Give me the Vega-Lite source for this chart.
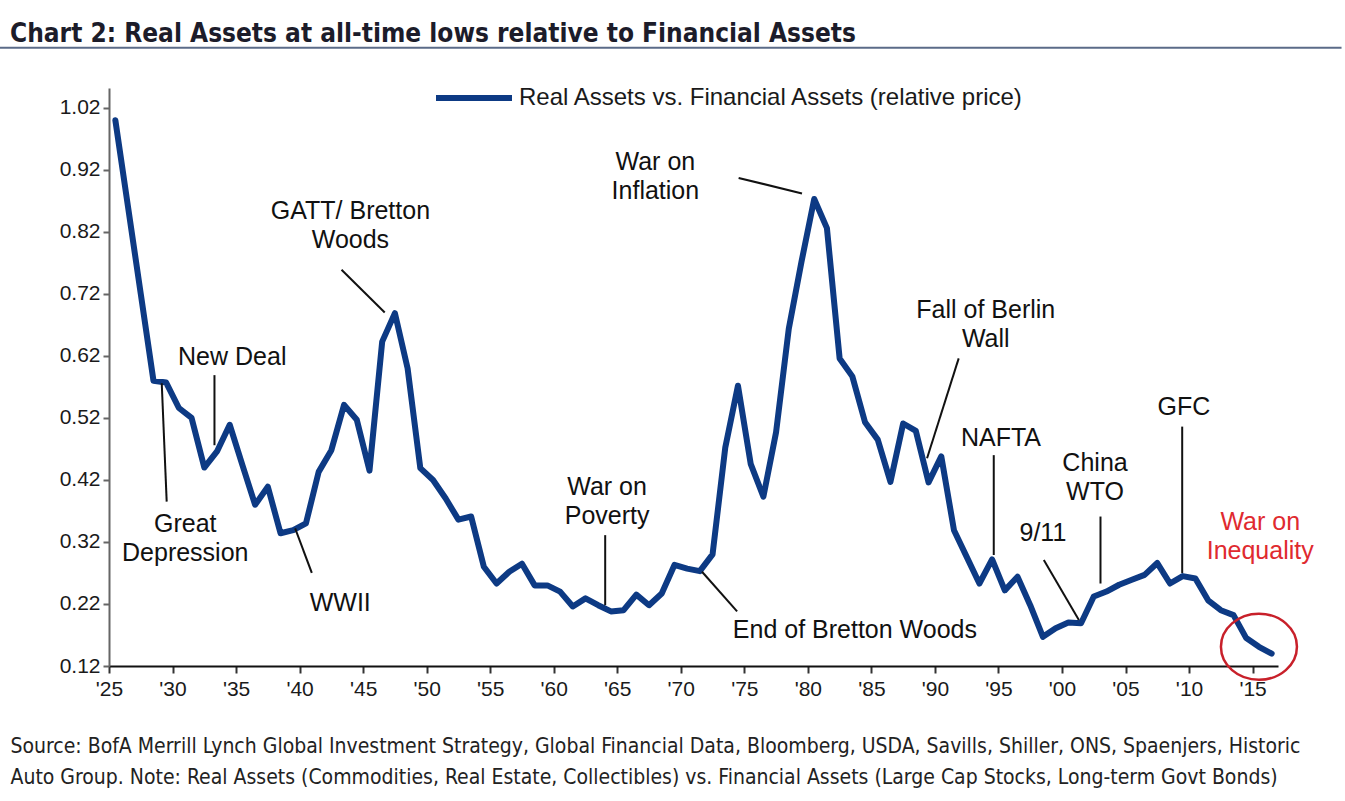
{
  "$schema": "https://vega.github.io/schema/vega-lite/v6.json",
  "width": 1169,
  "height": 578,
  "autosize": {"type": "none"},
  "padding": {"left": 109, "top": 88, "right": 68, "bottom": 135},
  "background": "white",
  "title": {
    "text": "Chart 2: Real Assets at all-time lows relative to Financial Assets",
    "anchor": "start",
    "frame": "group",
    "dx": -99,
    "offset": 0,
    "font": "Liberation Sans Narrow, DejaVu Sans Condensed, sans-serif",
    "fontSize": 26,
    "fontWeight": "bold",
    "color": "#1c1c2a"
  },
  "config": {
    "view": {"stroke": null},
    "axis": {"grid": false},
    "text": {"font": "Liberation Sans, Arial, sans-serif"}
  },
  "datasets": {
    "series": [
      {"year": 1925, "value": 1.0, "series": "Real Assets vs. Financial Assets (relative price)"},
      {"year": 1926, "value": 0.86, "series": "Real Assets vs. Financial Assets (relative price)"},
      {"year": 1927, "value": 0.72, "series": "Real Assets vs. Financial Assets (relative price)"},
      {"year": 1928, "value": 0.58, "series": "Real Assets vs. Financial Assets (relative price)"},
      {"year": 1929, "value": 0.577, "series": "Real Assets vs. Financial Assets (relative price)"},
      {"year": 1930, "value": 0.536, "series": "Real Assets vs. Financial Assets (relative price)"},
      {"year": 1931, "value": 0.52, "series": "Real Assets vs. Financial Assets (relative price)"},
      {"year": 1932, "value": 0.44, "series": "Real Assets vs. Financial Assets (relative price)"},
      {"year": 1933, "value": 0.466, "series": "Real Assets vs. Financial Assets (relative price)"},
      {"year": 1934, "value": 0.509, "series": "Real Assets vs. Financial Assets (relative price)"},
      {"year": 1935, "value": 0.444, "series": "Real Assets vs. Financial Assets (relative price)"},
      {"year": 1936, "value": 0.38, "series": "Real Assets vs. Financial Assets (relative price)"},
      {"year": 1937, "value": 0.409, "series": "Real Assets vs. Financial Assets (relative price)"},
      {"year": 1938, "value": 0.334, "series": "Real Assets vs. Financial Assets (relative price)"},
      {"year": 1939, "value": 0.339, "series": "Real Assets vs. Financial Assets (relative price)"},
      {"year": 1940, "value": 0.35, "series": "Real Assets vs. Financial Assets (relative price)"},
      {"year": 1941, "value": 0.433, "series": "Real Assets vs. Financial Assets (relative price)"},
      {"year": 1942, "value": 0.468, "series": "Real Assets vs. Financial Assets (relative price)"},
      {"year": 1943, "value": 0.541, "series": "Real Assets vs. Financial Assets (relative price)"},
      {"year": 1944, "value": 0.517, "series": "Real Assets vs. Financial Assets (relative price)"},
      {"year": 1945, "value": 0.435, "series": "Real Assets vs. Financial Assets (relative price)"},
      {"year": 1946, "value": 0.643, "series": "Real Assets vs. Financial Assets (relative price)"},
      {"year": 1947, "value": 0.689, "series": "Real Assets vs. Financial Assets (relative price)"},
      {"year": 1948, "value": 0.6, "series": "Real Assets vs. Financial Assets (relative price)"},
      {"year": 1949, "value": 0.439, "series": "Real Assets vs. Financial Assets (relative price)"},
      {"year": 1950, "value": 0.42, "series": "Real Assets vs. Financial Assets (relative price)"},
      {"year": 1951, "value": 0.39, "series": "Real Assets vs. Financial Assets (relative price)"},
      {"year": 1952, "value": 0.356, "series": "Real Assets vs. Financial Assets (relative price)"},
      {"year": 1953, "value": 0.361, "series": "Real Assets vs. Financial Assets (relative price)"},
      {"year": 1954, "value": 0.28, "series": "Real Assets vs. Financial Assets (relative price)"},
      {"year": 1955, "value": 0.253, "series": "Real Assets vs. Financial Assets (relative price)"},
      {"year": 1956, "value": 0.272, "series": "Real Assets vs. Financial Assets (relative price)"},
      {"year": 1957, "value": 0.285, "series": "Real Assets vs. Financial Assets (relative price)"},
      {"year": 1958, "value": 0.25, "series": "Real Assets vs. Financial Assets (relative price)"},
      {"year": 1959, "value": 0.25, "series": "Real Assets vs. Financial Assets (relative price)"},
      {"year": 1960, "value": 0.24, "series": "Real Assets vs. Financial Assets (relative price)"},
      {"year": 1961, "value": 0.216, "series": "Real Assets vs. Financial Assets (relative price)"},
      {"year": 1962, "value": 0.229, "series": "Real Assets vs. Financial Assets (relative price)"},
      {"year": 1963, "value": 0.218, "series": "Real Assets vs. Financial Assets (relative price)"},
      {"year": 1964, "value": 0.208, "series": "Real Assets vs. Financial Assets (relative price)"},
      {"year": 1965, "value": 0.21, "series": "Real Assets vs. Financial Assets (relative price)"},
      {"year": 1966, "value": 0.235, "series": "Real Assets vs. Financial Assets (relative price)"},
      {"year": 1967, "value": 0.218, "series": "Real Assets vs. Financial Assets (relative price)"},
      {"year": 1968, "value": 0.237, "series": "Real Assets vs. Financial Assets (relative price)"},
      {"year": 1969, "value": 0.283, "series": "Real Assets vs. Financial Assets (relative price)"},
      {"year": 1970, "value": 0.277, "series": "Real Assets vs. Financial Assets (relative price)"},
      {"year": 1971, "value": 0.273, "series": "Real Assets vs. Financial Assets (relative price)"},
      {"year": 1972, "value": 0.3, "series": "Real Assets vs. Financial Assets (relative price)"},
      {"year": 1973, "value": 0.472, "series": "Real Assets vs. Financial Assets (relative price)"},
      {"year": 1974, "value": 0.572, "series": "Real Assets vs. Financial Assets (relative price)"},
      {"year": 1975, "value": 0.446, "series": "Real Assets vs. Financial Assets (relative price)"},
      {"year": 1976, "value": 0.393, "series": "Real Assets vs. Financial Assets (relative price)"},
      {"year": 1977, "value": 0.497, "series": "Real Assets vs. Financial Assets (relative price)"},
      {"year": 1978, "value": 0.664, "series": "Real Assets vs. Financial Assets (relative price)"},
      {"year": 1979, "value": 0.772, "series": "Real Assets vs. Financial Assets (relative price)"},
      {"year": 1980, "value": 0.873, "series": "Real Assets vs. Financial Assets (relative price)"},
      {"year": 1981, "value": 0.826, "series": "Real Assets vs. Financial Assets (relative price)"},
      {"year": 1982, "value": 0.616, "series": "Real Assets vs. Financial Assets (relative price)"},
      {"year": 1983, "value": 0.587, "series": "Real Assets vs. Financial Assets (relative price)"},
      {"year": 1984, "value": 0.513, "series": "Real Assets vs. Financial Assets (relative price)"},
      {"year": 1985, "value": 0.485, "series": "Real Assets vs. Financial Assets (relative price)"},
      {"year": 1986, "value": 0.417, "series": "Real Assets vs. Financial Assets (relative price)"},
      {"year": 1987, "value": 0.511, "series": "Real Assets vs. Financial Assets (relative price)"},
      {"year": 1988, "value": 0.499, "series": "Real Assets vs. Financial Assets (relative price)"},
      {"year": 1989, "value": 0.416, "series": "Real Assets vs. Financial Assets (relative price)"},
      {"year": 1990, "value": 0.458, "series": "Real Assets vs. Financial Assets (relative price)"},
      {"year": 1991, "value": 0.339, "series": "Real Assets vs. Financial Assets (relative price)"},
      {"year": 1992, "value": 0.296, "series": "Real Assets vs. Financial Assets (relative price)"},
      {"year": 1993, "value": 0.253, "series": "Real Assets vs. Financial Assets (relative price)"},
      {"year": 1994, "value": 0.292, "series": "Real Assets vs. Financial Assets (relative price)"},
      {"year": 1995, "value": 0.242, "series": "Real Assets vs. Financial Assets (relative price)"},
      {"year": 1996, "value": 0.264, "series": "Real Assets vs. Financial Assets (relative price)"},
      {"year": 1997, "value": 0.218, "series": "Real Assets vs. Financial Assets (relative price)"},
      {"year": 1998, "value": 0.167, "series": "Real Assets vs. Financial Assets (relative price)"},
      {"year": 1999, "value": 0.181, "series": "Real Assets vs. Financial Assets (relative price)"},
      {"year": 2000, "value": 0.19, "series": "Real Assets vs. Financial Assets (relative price)"},
      {"year": 2001, "value": 0.189, "series": "Real Assets vs. Financial Assets (relative price)"},
      {"year": 2002, "value": 0.232, "series": "Real Assets vs. Financial Assets (relative price)"},
      {"year": 2003, "value": 0.24, "series": "Real Assets vs. Financial Assets (relative price)"},
      {"year": 2004, "value": 0.251, "series": "Real Assets vs. Financial Assets (relative price)"},
      {"year": 2005, "value": 0.259, "series": "Real Assets vs. Financial Assets (relative price)"},
      {"year": 2006, "value": 0.267, "series": "Real Assets vs. Financial Assets (relative price)"},
      {"year": 2007, "value": 0.286, "series": "Real Assets vs. Financial Assets (relative price)"},
      {"year": 2008, "value": 0.253, "series": "Real Assets vs. Financial Assets (relative price)"},
      {"year": 2009, "value": 0.265, "series": "Real Assets vs. Financial Assets (relative price)"},
      {"year": 2010, "value": 0.261, "series": "Real Assets vs. Financial Assets (relative price)"},
      {"year": 2011, "value": 0.226, "series": "Real Assets vs. Financial Assets (relative price)"},
      {"year": 2012, "value": 0.21, "series": "Real Assets vs. Financial Assets (relative price)"},
      {"year": 2013, "value": 0.202, "series": "Real Assets vs. Financial Assets (relative price)"},
      {"year": 2014, "value": 0.165, "series": "Real Assets vs. Financial Assets (relative price)"},
      {"year": 2015, "value": 0.151, "series": "Real Assets vs. Financial Assets (relative price)"},
      {"year": 2016, "value": 0.14, "series": "Real Assets vs. Financial Assets (relative price)"}
    ],
    "notes": [
      {"year": 1943.5, "value": 0.854, "label": "GATT/ Bretton\nWoods"},
      {"year": 1934.2, "value": 0.618, "label": "New Deal"},
      {"year": 1930.5, "value": 0.349, "label": "Great\nDepression"},
      {"year": 1942.7, "value": 0.222, "label": "WWII"},
      {"year": 1963.7, "value": 0.409, "label": "War on\nPoverty"},
      {"year": 1983.2, "value": 0.178, "label": "End of Bretton Woods"},
      {"year": 1967.5, "value": 0.933, "label": "War on\nInflation"},
      {"year": 1993.5, "value": 0.694, "label": "Fall of Berlin\nWall"},
      {"year": 1994.7, "value": 0.488, "label": "NAFTA"},
      {"year": 1998.0, "value": 0.335, "label": "9/11"},
      {"year": 2002.1, "value": 0.447, "label": "China\nWTO"},
      {"year": 2009.1, "value": 0.538, "label": "GFC"}
    ],
    "redNote": [
      {"year": 2015.1, "value": 0.352, "label": "War on\nInequality"}
    ],
    "leaders": [
      {"year": 1942.8, "value": 0.759, "year2": 1946.2, "value2": 0.69},
      {"year": 1932.8, "value": 0.589, "year2": 1932.8, "value2": 0.476},
      {"year": 1928.65, "value": 0.576, "year2": 1929.04, "value2": 0.385},
      {"year": 1939.15, "value": 0.342, "year2": 1940.46, "value2": 0.27},
      {"year": 1963.55, "value": 0.331, "year2": 1963.55, "value2": 0.218},
      {"year": 1971.17, "value": 0.272, "year2": 1973.93, "value2": 0.208},
      {"year": 1974.05, "value": 0.907, "year2": 1979.04, "value2": 0.882},
      {"year": 1991.37, "value": 0.616, "year2": 1988.88, "value2": 0.455},
      {"year": 1994.13, "value": 0.46, "year2": 1994.13, "value2": 0.299},
      {"year": 1998.07, "value": 0.291, "year2": 2000.83, "value2": 0.194},
      {"year": 2002.53, "value": 0.361, "year2": 2002.53, "value2": 0.253},
      {"year": 2008.96, "value": 0.506, "year2": 2008.96, "value2": 0.27}
    ],
    "highlight": [
      {"year": 2015.0, "value": 0.151}
    ]
  },
  "layer": [
    {
      "data": {"values": [{}]},
      "mark": {"type": "rule", "color": "#5b6b88", "strokeWidth": 2, "clip": false},
      "encoding": {
        "x": {"datum": 1915.9, "type": "quantitative"},
        "x2": {"datum": 2021.5},
        "y": {"datum": 1.1168, "type": "quantitative"}
      }
    },
    {
      "data": {"name": "series"},
      "mark": {"type": "line", "strokeWidth": 6, "strokeJoin": "round", "strokeCap": "round"},
      "encoding": {
        "x": {
          "field": "year",
          "type": "quantitative",
          "scale": {"domain": [1924.5, 2016.5], "nice": false, "zero": false},
          "axis": {
            "values": [1924.5, 1929.5, 1934.5, 1939.5, 1944.5, 1949.5, 1954.5, 1959.5, 1964.5, 1969.5, 1974.5, 1979.5, 1984.5, 1989.5, 1994.5, 1999.5, 2004.5, 2009.5, 2014.5],
            "labelExpr": "\"'\" + format(floor(datum.value + 0.5) % 100, '02d')",
            "labelFont": "Liberation Sans, Arial, sans-serif",
            "labelFontSize": 21,
            "labelColor": "#1a1a1a",
            "labelFlush": false,
            "labelOverlap": false,
            "labelPadding": 5,
            "domainColor": "#111111",
            "domainWidth": 2,
            "tickColor": "#333333",
            "tickWidth": 2,
            "tickSize": 7,
            "title": [
              "Source: BofA Merrill Lynch Global Investment Strategy, Global Financial Data, Bloomberg, USDA, Savills, Shiller, ONS, Spaenjers, Historic",
              "Auto Group. Note: Real Assets (Commodities, Real Estate, Collectibles) vs. Financial Assets (Large Cap Stocks, Long-term Govt Bonds)"
            ],
            "titleFont": "Liberation Sans Narrow, DejaVu Sans Condensed, sans-serif",
            "titleFontSize": 21,
            "titleFontWeight": "normal",
            "titleColor": "#222222",
            "titleAnchor": "start",
            "titleAlign": "left",
            "titleBaseline": "top",
            "titleX": -99,
            "titleY": 69,
            "titleLineHeight": 31
          }
        },
        "y": {
          "field": "value",
          "type": "quantitative",
          "scale": {"domain": [0.12, 1.052], "nice": false, "zero": false},
          "axis": {
            "values": [0.12, 0.22, 0.32, 0.42, 0.52, 0.62, 0.72, 0.82, 0.92, 1.02],
            "format": ".2f",
            "labelFont": "Liberation Sans, Arial, sans-serif",
            "labelFontSize": 21,
            "labelColor": "#1a1a1a",
            "labelPadding": 3,
            "domainColor": "#666666",
            "domainWidth": 2,
            "tickColor": "#666666",
            "tickWidth": 2,
            "tickSize": 6,
            "title": null
          }
        },
        "color": {
          "field": "series",
          "type": "nominal",
          "scale": {"range": ["#0d3a84"]},
          "legend": {
            "title": null,
            "orient": "none",
            "legendX": 324,
            "legendY": -31,
            "padding": 0,
            "symbolType": "stroke",
            "symbolSize": 5776,
            "symbolStrokeWidth": 6,
            "labelFont": "Liberation Sans, Arial, sans-serif",
            "labelFontSize": 24,
            "labelLimit": 0,
            "labelColor": "#1a1a1a",
            "labelOffset": 4
          }
        }
      }
    },
    {
      "data": {"name": "leaders"},
      "mark": {"type": "rule", "color": "#111111", "strokeWidth": 2},
      "encoding": {
        "x": {"field": "year", "type": "quantitative"},
        "y": {"field": "value", "type": "quantitative"},
        "x2": {"field": "year2"},
        "y2": {"field": "value2"}
      }
    },
    {
      "data": {"name": "notes"},
      "mark": {"type": "text", "fontSize": 25, "color": "#111111", "align": "center", "baseline": "middle", "lineBreak": "\n", "lineHeight": 29},
      "encoding": {
        "x": {"field": "year", "type": "quantitative"},
        "y": {"field": "value", "type": "quantitative"},
        "text": {"field": "label"}
      }
    },
    {
      "data": {"name": "redNote"},
      "mark": {"type": "text", "fontSize": 25, "color": "#e02a2f", "align": "center", "baseline": "middle", "lineBreak": "\n", "lineHeight": 29},
      "encoding": {
        "x": {"field": "year", "type": "quantitative"},
        "y": {"field": "value", "type": "quantitative"},
        "text": {"field": "label"}
      }
    },
    {
      "data": {"name": "highlight"},
      "mark": {"type": "point", "shape": "M-1,0A1,0.87,0,1,0,1,0A1,0.87,0,1,0,-1,0Z", "size": 5776, "filled": false, "stroke": "#c8202a", "strokeWidth": 2.5, "opacity": 1},
      "encoding": {
        "x": {"field": "year", "type": "quantitative"},
        "y": {"field": "value", "type": "quantitative"}
      }
    }
  ]
}
